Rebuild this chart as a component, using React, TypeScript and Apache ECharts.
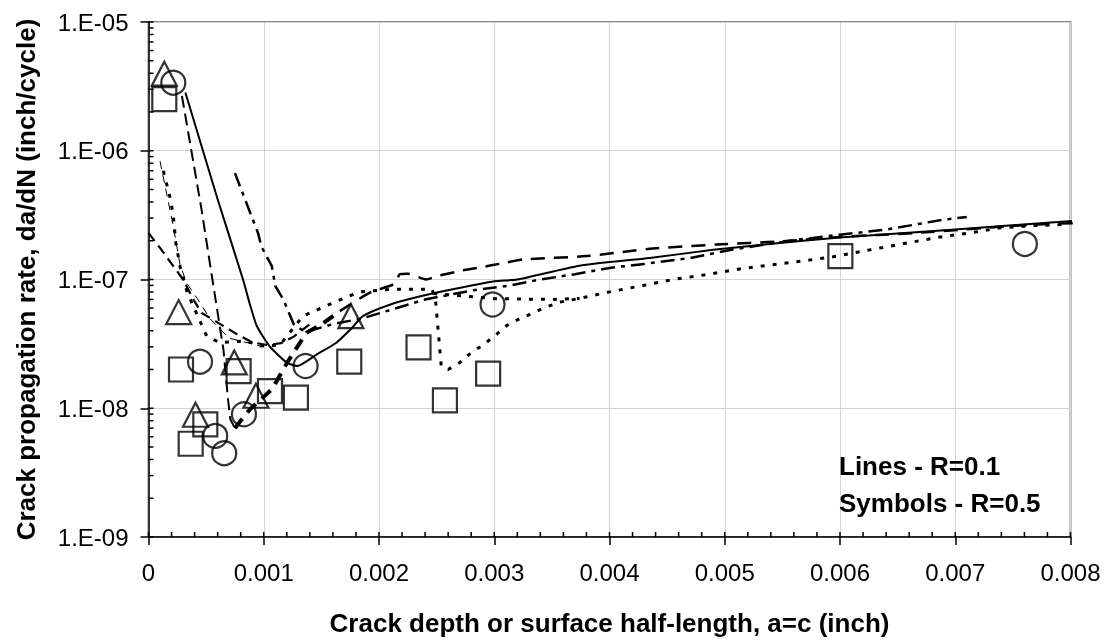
import React, { useEffect, useRef } from "react";
import * as echarts from "echarts";

// ---- data ----
const xTicks = [0, 0.001, 0.002, 0.003, 0.004, 0.005, 0.006, 0.007, 0.008];
const yDecades = [1e-9, 1e-8, 1e-7, 1e-6, 1e-5];

// Symbols - R=0.5
const squares: [number, number][] = [
  [0.000137, 2.52e-6], [0.000282, 2.0e-8], [0.000366, 5.3e-9], [0.000493, 7.5e-9],
  [0.000782, 1.94e-8], [0.001054, 1.36e-8], [0.001279, 1.21e-8], [0.001742, 2.3e-8],
  [0.002343, 2.97e-8], [0.002572, 1.15e-8], [0.002947, 1.86e-8], [0.006003, 1.52e-7],
];
const circles: [number, number][] = [
  [0.000215, 3.38e-6], [0.000447, 2.3e-8], [0.000579, 6.1e-9], [0.000657, 4.48e-9],
  [0.000828, 8.98e-9], [0.001363, 2.13e-8], [0.002985, 6.4e-8], [0.007604, 1.89e-7],
];
const triangles: [number, number][] = [
  [0.000137, 3.97e-6], [0.000262, 5.58e-8], [0.000408, 8.9e-9], [0.000744, 2.27e-8],
  [0.000932, 1.25e-8], [0.001756, 5.19e-8],
];

// Lines - R=0.1
const lineSolid: [number, number][] = [
  [0.00032, 2.83e-6], [0.0006, 4.2e-7], [0.00082, 1.0e-7], [0.00088, 6.4e-8],
  [0.00094, 4.35e-8], [0.00105, 3.04e-8], [0.0012, 2.26e-8], [0.00129, 2.13e-8],
  [0.00146, 2.62e-8], [0.00163, 3.23e-8], [0.00177, 4.25e-8], [0.00186, 5.2e-8],
  [0.0021, 6.4e-8], [0.00236, 7.4e-8], [0.00264, 8.4e-8], [0.003, 9.7e-8],
  [0.0032, 1.0e-7], [0.00374, 1.28e-7], [0.00435, 1.47e-7], [0.0049, 1.7e-7],
  [0.0055, 1.93e-7], [0.006, 2.12e-7], [0.007, 2.45e-7], [0.0081, 2.88e-7],
];
const lineDashDown: [number, number][] = [
  [0.00029, 2.67e-6], [0.00046, 3.5e-7], [0.00055, 1.06e-7], [0.00065, 2.87e-8],
  [0.00069, 1.17e-8], [0.00071, 8.2e-9], [0.00075, 7.0e-9],
];
const lineThickDash: [number, number][] = [
  [0.00075, 7.0e-9], [0.00081, 8.2e-9], [0.00088, 9.8e-9], [0.00107, 1.4e-8],
  [0.00121, 2.31e-8], [0.00137, 3.86e-8], [0.0015, 4.48e-8], [0.00166, 5.68e-8],
];
const lineLongDash: [number, number][] = [
  [0.00166, 5.68e-8], [0.00192, 7.9e-8], [0.00214, 9.3e-8], [0.00218, 1.1e-7],
  [0.00225, 1.11e-7], [0.00241, 1.0e-7], [0.0025, 1.06e-7], [0.00273, 1.18e-7],
  [0.00285, 1.23e-7], [0.0031, 1.35e-7], [0.00325, 1.43e-7], [0.0038, 1.52e-7],
  [0.00435, 1.73e-7], [0.00493, 1.87e-7], [0.0055, 1.98e-7], [0.006, 2.14e-7],
  [0.00666, 2.3e-7], [0.00767, 2.67e-7], [0.00808, 2.75e-7],
];
const lineDashDot: [number, number][] = [
  [0.00075, 6.7e-7], [0.00095, 2.3e-7], [0.00098, 1.8e-7], [0.00107, 1.27e-7],
  [0.0011, 8.9e-8], [0.00117, 7.0e-8], [0.00126, 4.5e-8], [0.00136, 3.9e-8],
  [0.0016, 4.5e-8], [0.00186, 5.0e-8], [0.00204, 5.6e-8], [0.0024, 7.0e-8],
  [0.0028, 8.2e-8], [0.00314, 9.0e-8], [0.0034, 1.0e-7], [0.0037, 1.1e-7],
  [0.004, 1.23e-7], [0.0043, 1.32e-7], [0.0047, 1.47e-7], [0.00507, 1.71e-7],
  [0.0056, 2.02e-7], [0.006, 2.23e-7], [0.0064, 2.44e-7], [0.0069, 2.92e-7],
  [0.0071, 3.06e-7],
];
const lineDotted: [number, number][] = [
  [0.00013, 7.0e-7], [0.000143, 6.0e-7], [0.000172, 5.05e-7], [0.000215, 3.19e-7],
  [0.000236, 1.96e-7], [0.000276, 1.23e-7], [0.000337, 7.9e-8], [0.000505, 3.63e-8],
  [0.00062, 3.23e-8], [0.00085, 3.33e-8], [0.00097, 3.04e-8], [0.00114, 3.1e-8],
  [0.00134, 5.2e-8], [0.00157, 6.4e-8], [0.0017, 7.2e-8], [0.00183, 8.0e-8],
  [0.0021, 8.4e-8], [0.00246, 8.4e-8], [0.00249, 7.0e-8], [0.00254, 2.13e-8],
  [0.0026, 2.0e-8], [0.0027, 2.26e-8], [0.0028, 2.7e-8], [0.00292, 3.18e-8],
  [0.00302, 3.75e-8], [0.00311, 4.4e-8], [0.00321, 4.9e-8], [0.00331, 5.35e-8],
  [0.00344, 6.07e-8], [0.00357, 6.67e-8], [0.00374, 7.13e-8], [0.00399, 7.98e-8],
  [0.00429, 8.98e-8], [0.00455, 1.0e-7], [0.00478, 1.07e-7], [0.00516, 1.22e-7],
  [0.00556, 1.35e-7], [0.00594, 1.5e-7], [0.0062, 1.66e-7], [0.00658, 1.92e-7],
  [0.00687, 2.14e-7], [0.00713, 2.3e-7], [0.00739, 2.52e-7], [0.00767, 2.62e-7],
  [0.00793, 2.67e-7],
];
const lineDottedFlat: [number, number][] = [
  [0.00247, 7.8e-8], [0.003, 7.1e-8], [0.0035, 7.0e-8], [0.00374, 7.13e-8],
];
const lineEdgeDash: [number, number][] = [
  [0, 2.3e-7], [0.0001, 1.76e-7], [0.0003, 1.0e-7], [0.00039, 7.0e-8],
  [0.00046, 5.5e-8], [0.00058, 4.75e-8], [0.00077, 3.75e-8], [0.0009, 3.25e-8],
  [0.00103, 3.1e-8], [0.00115, 3.2e-8], [0.00126, 3.6e-8], [0.0014, 4.5e-8],
];
const lineThinDash: [number, number][] = [
  [0.0001, 8.3e-7], [0.000215, 2.6e-7], [0.000273, 1.31e-7], [0.000331, 9.4e-8],
  [0.000447, 6.6e-8], [0.00053, 5.0e-8], [0.0007, 3.5e-8], [0.001, 3.0e-8],
];

const legendLines = ["Lines - R=0.1", "Symbols - R=0.5"];
const xTitle = "Crack depth or surface half-length, a=c (inch)";
const yTitle = "Crack propagation rate, da/dN (inch/cycle)";

const FONT = '"Liberation Sans", Arial, "Noto Sans", sans-serif';

function fmtY(v: number) {
  const e = Math.round(Math.log10(v));
  return "1.E" + (e < 0 ? "-" : "+") + String(Math.abs(e)).padStart(2, "0");
}

export default function App() {
  const ref = useRef<HTMLDivElement>(null);
  useEffect(() => {
    if (!ref.current) return;
    const chart = echarts.init(ref.current, null, { renderer: "svg" });
    const line = (data: [number, number][], width: number, type: any, clip = true, smooth: any = false) => ({
      type: "line",
      data,
      symbol: "none",
      showSymbol: false,
      clip,
      smooth,
      silent: true,
      z: 2,
      lineStyle: { color: "#000", width, type, cap: "butt", join: "round" },
    });
    const scatter = (data: [number, number][], symbol: string, size: any) => ({
      type: "scatter",
      data,
      symbol,
      symbolSize: size,
      silent: true,
      z: 3,
      itemStyle: { color: "rgba(255,255,255,0)", borderColor: "#000", borderWidth: 2.2 },
    });
    chart.setOption({
      animation: false,
      grid: {
        left: 148.5, top: 22, right: 39.5, bottom: 103,
        show: true, borderColor: "#888", borderWidth: 2, backgroundColor: "transparent",
      },
      xAxis: {
        type: "value",
        min: xTicks[0],
        max: xTicks[xTicks.length - 1],
        interval: 0.001,
        axisLine: { show: true, onZero: false, lineStyle: { color: "#000", width: 1.5 } },
        axisTick: { show: true, length: 8, lineStyle: { color: "#000", width: 1.5 } },
        axisLabel: {
          formatter: (v: number) => (v === 0 ? "0" : v.toFixed(3)),
          fontSize: 24, color: "#000", fontFamily: FONT, margin: 23,
        },
        splitLine: { show: true, lineStyle: { color: "#d4d4d4", width: 1 } },
        name: xTitle,
        nameLocation: "middle",
        nameGap: 73,
        nameTextStyle: { fontSize: 26, fontWeight: "bold", fontFamily: FONT, color: "#000" },
      },
      yAxis: {
        type: "log",
        logBase: 10,
        min: yDecades[0],
        max: yDecades[yDecades.length - 1],
        axisLine: { show: true, lineStyle: { color: "#000", width: 1.5 } },
        axisTick: { show: true, length: 8, lineStyle: { color: "#000", width: 1.5 } },
        axisLabel: { formatter: fmtY, fontSize: 24, color: "#000", fontFamily: FONT, margin: 20 },
        splitLine: { show: true, lineStyle: { color: "#d4d4d4", width: 1 } },
        name: yTitle,
        nameLocation: "middle",
        nameGap: 110,
        nameTextStyle: { fontSize: 26, fontWeight: "bold", fontFamily: FONT, color: "#000" },
      },
      series: [
        line(lineEdgeDash, 2.2, [10, 6]),
        line(lineThinDash, 1, [8, 6]),
        line(lineDotted, 3, [4, 8]),
        line(lineDottedFlat, 3, [4, 8]),
        line(lineDashDown, 2, [12, 6]),
        line(lineThickDash, 4, [12, 8]),
        line(lineLongDash, 2.5, [14, 9], false, 0.2),
        line(lineDashDot, 2.5, [14, 6, 4, 6]),
        line(lineSolid, 2, "solid", false, 0.2),
        scatter(squares, "rect", 24),
        scatter(circles, "circle", 24),
        scatter(triangles, "triangle", [25, 24]),
      ],
    });

    // inner ticks (Excel style): x every 0.0002, y at 1..9 x 10^n
    const g: any[] = [];
    const x0 = chart.convertToPixel({ xAxisIndex: 0 } as any, xTicks[0]) as number;
    const yb = chart.convertToPixel({ yAxisIndex: 0 } as any, yDecades[0]) as number;
    const tickStyle = { stroke: "#000", lineWidth: 1.5 };
    for (let k = 0; k <= 40; k++) {
      const px = chart.convertToPixel({ xAxisIndex: 0 } as any, k * 0.0002) as number;
      g.push({ type: "line", silent: true, shape: { x1: px, y1: yb, x2: px, y2: yb - 5 }, style: tickStyle });
    }
    for (let d = 0; d < yDecades.length; d++) {
      for (let m = 1; m <= 9; m++) {
        if (d === yDecades.length - 1 && m > 1) break;
        const py = chart.convertToPixel({ yAxisIndex: 0 } as any, m * yDecades[d]) as number;
        g.push({ type: "line", silent: true, shape: { x1: x0, y1: py, x2: x0 + 5, y2: py }, style: tickStyle });
      }
    }
    legendLines.forEach((t, i) => {
      g.push({
        type: "text",
        silent: true,
        x: 839,
        y: 466 + i * 37,
        style: {
          text: t, fill: "#000", font: `bold 26px ${FONT}`,
          textAlign: "left", textVerticalAlign: "middle",
        },
      });
    });
    chart.setOption({ graphic: g });

    return () => chart.dispose();
  }, []);
  return <div ref={ref} style={{ position: "fixed", left: 0, top: 0, width: 1110, height: 641 }} />;
}
